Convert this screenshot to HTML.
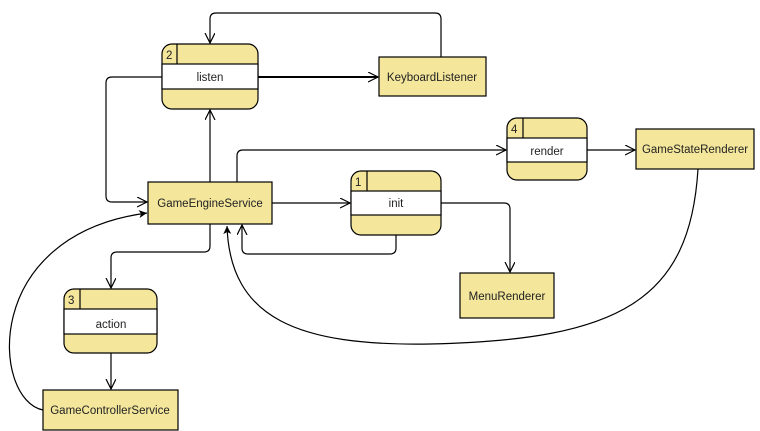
<!DOCTYPE html>
<html><head><style>
body{margin:0;background:#fff;}
svg{display:block;}
text{font-family:"Liberation Sans",sans-serif;font-size:11.5px;fill:#222;}
</style></head><body>
<svg width="760" height="431" viewBox="0 0 760 431" xmlns="http://www.w3.org/2000/svg">
<defs>
<marker id="o" markerWidth="12" markerHeight="12" refX="10" refY="5" orient="auto" markerUnits="userSpaceOnUse"><path d="M0,0 L10,5 L0,10" fill="none" stroke="#000" stroke-width="1.2"/></marker>
<marker id="f" markerWidth="10" markerHeight="10" refX="8" refY="4" orient="auto" markerUnits="userSpaceOnUse"><path d="M0,0 L8,4 L0,8 L2,4 Z" fill="#000"/></marker>
</defs>
<g fill="none" stroke="#000" stroke-width="1.2">
<path d="M441,57 V19 Q441,13 435,13 H216 Q210,13 210,19 V43" marker-end="url(#o)"/>
<path d="M162,77 H112 Q106,77 106,83 V196 Q106,202 112,202 H147" marker-end="url(#o)"/>
<path d="M258,77 H378" stroke-width="2" marker-end="url(#o)"/>
<path d="M210,182 V110" marker-end="url(#o)"/>
<path d="M237,182 V156 Q237,150 243,150 H506" marker-end="url(#o)"/>
<path d="M587,150 H635" marker-end="url(#o)"/>
<path d="M698,169 C690,300 620,340 430,344 C300,346 230,320 227,226" marker-end="url(#f)"/>
<path d="M272,203 H350" marker-end="url(#o)"/>
<path d="M441,203 H504 Q510,203 510,209 V272" marker-end="url(#o)"/>
<path d="M396,235 V248 Q396,254 390,254 H248 Q242,254 242,248 V225" marker-end="url(#o)"/>
<path d="M210,224 V246 Q210,252 204,252 H117 Q111,252 111,258 V288" marker-end="url(#o)"/>
<path d="M111,353 V389" marker-end="url(#o)"/>
<path d="M43,410 C-8,400 -20,235 147,213" marker-end="url(#f)"/>
</g>
<g stroke="#000" stroke-width="1.2">
<rect x="162" y="44" width="96" height="65" rx="10" fill="#f4e79c"/>
<rect x="162" y="64" width="96" height="25" fill="#fff"/>
<line x1="177" y1="44" x2="177" y2="64"/>
<rect x="351" y="171" width="90" height="64" rx="10" fill="#f4e79c"/>
<rect x="351" y="191" width="90" height="24" fill="#fff"/>
<line x1="367" y1="171" x2="367" y2="191"/>
<rect x="507" y="118" width="80" height="62" rx="10" fill="#f4e79c"/>
<rect x="507" y="138" width="80" height="24" fill="#fff"/>
<line x1="523" y1="118" x2="523" y2="138"/>
<rect x="64" y="289" width="93" height="64" rx="10" fill="#f4e79c"/>
<rect x="64" y="309" width="93" height="25" fill="#fff"/>
<line x1="80" y1="289" x2="80" y2="309"/>
<rect x="379" y="57" width="107" height="39" fill="#f4e79c"/>
<rect x="148" y="182" width="124" height="42" fill="#f4e79c"/>
<rect x="636" y="129" width="118" height="40" fill="#f4e79c"/>
<rect x="460" y="273" width="94" height="45" fill="#f4e79c"/>
<rect x="43" y="390" width="135" height="40" fill="#f4e79c"/>
</g>
<g text-anchor="middle">
<text x="210" y="81">listen</text>
<text x="396" y="207">init</text>
<text x="547" y="155">render</text>
<text x="111" y="328">action</text>
<text x="432" y="81">KeyboardListener</text>
<text x="210" y="207">GameEngineService</text>
<text x="695" y="153">GameStateRenderer</text>
<text x="507" y="300">MenuRenderer</text>
<text x="110" y="414">GameControllerService</text>
</g>
<text x="166" y="59">2</text>
<text x="355" y="186">1</text>
<text x="511" y="133">4</text>
<text x="68" y="304">3</text>
</svg>
</body></html>
